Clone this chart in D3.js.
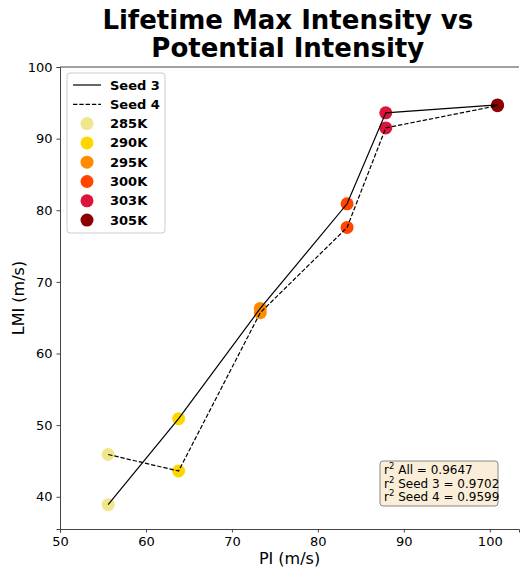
<!DOCTYPE html>
<html>
<head>
<meta charset="utf-8">
<script src="https://cdn.jsdelivr.net/npm/d3@7"></script>
<style>
  body { margin: 0; background: #fff; }
  text { font-family: "DejaVu Sans", sans-serif; }
</style>
</head>
<body>
<svg id="viz" width="520" height="572"></svg>
<script>
// Data
const temps = ['285K', '290K', '295K', '300K', '303K', '305K'];
const tempColors = ['#f0e68c', '#ffd700', '#ff8c00', '#ff4500', '#dc143c', '#8b0000'];
const seed3PI = [55.6, 63.8, 73.3, 83.4, 87.9, 100.9];
const seed3LMI = [38.9, 50.9, 66.3, 80.9, 93.6, 94.7];
const seed4PI = [55.6, 63.8, 73.3, 83.4, 87.9, 100.9];
const seed4LMI = [45.9, 43.6, 65.7, 77.6, 91.5, 94.6];
const xTicks = [50, 60, 70, 80, 90, 100];
const yTicks = [40, 50, 60, 70, 80, 90, 100];
const stats = ['All = 0.9647', 'Seed 3 = 0.9702', 'Seed 4 = 0.9599'];

const svg = d3.select('#viz');
const margin = { top: 67, right: 1, bottom: 43, left: 60 };
const width = +svg.attr('width') - margin.left - margin.right;
const height = +svg.attr('height') - margin.top - margin.bottom;

const x = d3.scaleLinear().domain([50, 103.4]).range([margin.left, margin.left + width]);
const y = d3.scaleLinear().domain([35.5, 100]).range([margin.top + height, margin.top]);

// Title
svg.append('text')
   .attr('x', x(76.5)).attr('y', 29)
   .attr('text-anchor', 'middle')
   .style('font-size', '26px').style('font-weight', 'bold')
   .text('Lifetime Max Intensity vs');
svg.append('text')
   .attr('x', x(76.5)).attr('y', 57)
   .attr('text-anchor', 'middle')
   .style('font-size', '26px').style('font-weight', 'bold')
   .text('Potential Intensity');

// Axes
const xAxis = svg.append('g')
   .attr('transform', `translate(0,${margin.top + height})`)
   .call(d3.axisBottom(x).tickValues(xTicks).tickSize(3.5).tickPadding(4));
const yAxis = svg.append('g')
   .attr('transform', `translate(${margin.left},0)`)
   .call(d3.axisLeft(y).tickValues(yTicks).tickSize(3.5).tickPadding(4));
[xAxis, yAxis].forEach(a => {
  a.selectAll('text').style('font-size', '13px').attr('fill', '#000');
  a.selectAll('line').attr('stroke', '#444');
  a.select('.domain').attr('stroke', '#444');
});
// top spine
svg.append('line')
   .attr('x1', margin.left).attr('x2', margin.left + width)
   .attr('y1', margin.top).attr('y2', margin.top)
   .attr('stroke', '#444');

svg.append('text')
   .attr('x', x(76.7)).attr('y', 564)
   .attr('text-anchor', 'middle').style('font-size', '16px')
   .text('PI (m/s)');
svg.append('text')
   .attr('transform', `translate(24,${y(67.75)}) rotate(-90)`)
   .attr('text-anchor', 'middle').style('font-size', '16px')
   .text('LMI (m/s)');

// Points
const pts = temps.map((t, i) => [
  { x: seed3PI[i], y: seed3LMI[i], c: tempColors[i] },
  { x: seed4PI[i], y: seed4LMI[i], c: tempColors[i] }
]).flat();
svg.append('g').selectAll('circle')
   .data(pts).join('circle')
   .attr('cx', d => x(d.x)).attr('cy', d => y(d.y))
   .attr('r', 6.5).attr('fill', d => d.c);

// Lines
const line = d3.line().x(d => x(d[0])).y(d => y(d[1]));
svg.append('path')
   .datum(seed3PI.map((v, i) => [v, seed3LMI[i]]))
   .attr('d', line).attr('fill', 'none')
   .attr('stroke', '#000').attr('stroke-width', 1.2);
svg.append('path')
   .datum(seed4PI.map((v, i) => [v, seed4LMI[i]]))
   .attr('d', line).attr('fill', 'none')
   .attr('stroke', '#000').attr('stroke-width', 1.2)
   .attr('stroke-dasharray', '4.4,1.9');

// Legend
const lg = svg.append('g').attr('transform', 'translate(67,73)');
lg.append('rect')
  .attr('width', 98).attr('height', 160).attr('rx', 3)
  .attr('fill', '#fff').attr('fill-opacity', 0.8)
  .attr('stroke', '#ccc');
const entries = [{ label: 'Seed 3', type: 'solid' }, { label: 'Seed 4', type: 'dash' }]
  .concat(temps.map((t, i) => ({ label: t, type: 'dot', c: tempColors[i] })));
entries.forEach((e, i) => {
  const cy = 12 + i * 19.3;
  if (e.type === 'dot') {
    lg.append('circle').attr('cx', 20).attr('cy', cy).attr('r', 6.5).attr('fill', e.c);
  } else {
    lg.append('line').attr('x1', 6).attr('x2', 34).attr('y1', cy).attr('y2', cy)
      .attr('stroke', '#000').attr('stroke-width', 1.2)
      .attr('stroke-dasharray', e.type === 'dash' ? '4.4,1.9' : null);
  }
  lg.append('text').attr('x', 43).attr('y', cy + 4.5)
    .style('font-size', '13px').style('font-weight', 'bold')
    .text(e.label);
});

// Stats box
const sb = svg.append('g').attr('transform', 'translate(380,461)');
sb.append('rect')
  .attr('width', 118).attr('height', 45).attr('rx', 3)
  .attr('fill', '#f5deb3').attr('fill-opacity', 0.5)
  .attr('stroke', '#888');
stats.forEach((s, i) => {
  const t = sb.append('text').attr('x', 4).attr('y', 13 + i * 13.5)
    .style('font-size', '12px');
  t.append('tspan').text('r');
  t.append('tspan').attr('dy', -5).style('font-size', '8.5px').text('2');
  t.append('tspan').attr('dy', 5).text(' ' + s);
});
</script>
</body>
</html>
